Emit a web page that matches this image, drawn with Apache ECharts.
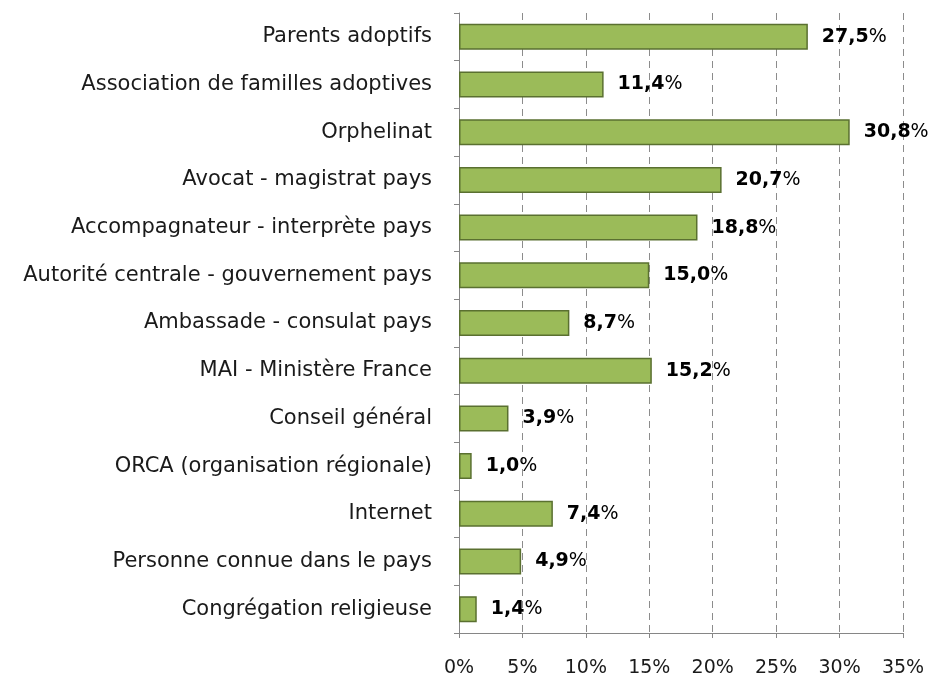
<!DOCTYPE html>
<html>
<head>
<meta charset="UTF-8">
<title>Sources d'information</title>
<script src="https://cdn.jsdelivr.net/npm/echarts@6/dist/echarts.min.js"></script>
<style>
    body{ margin: 0; background: #fff; }
    #main{ width: 932px; height: 680px; }
</style>
</head>
<body>
<div id="main"></div>
<script type="text/javascript">
    // categories from top to bottom
    var categories = ['Parents adoptifs', 'Association de familles adoptives', 'Orphelinat',
        'Avocat - magistrat pays', 'Accompagnateur - interprète pays',
        'Autorité centrale - gouvernement pays', 'Ambassade - consulat pays',
        'MAI - Ministère France', 'Conseil général', 'ORCA (organisation régionale)',
        'Internet', 'Personne connue dans le pays', 'Congrégation religieuse'];
    var values = [27.5, 11.4, 30.8, 20.7, 18.8, 15.0, 8.7, 15.2, 3.9, 1.0, 7.4, 4.9, 1.4];
    var xTicks = [0, 5, 10, 15, 20, 25, 30, 35];

    var font = 'DejaVu Sans';
    var myChart = echarts.init(document.getElementById('main'));

    var option = {
        animation: false,
        backgroundColor: '#fff',
        grid: { left: 459, right: 29, top: 13, bottom: 47 },
        xAxis: {
            type: 'value',
            min: xTicks[0],
            max: xTicks[xTicks.length - 1],
            interval: 5,
            axisLine: { show: true, lineStyle: { color: '#868686', width: 1 } },
            axisTick: { show: true, length: 5, lineStyle: { color: '#868686' } },
            axisLabel: {
                margin: 26,
                fontFamily: font, fontSize: 19, color: '#1a1a1a',
                formatter: function (v) { return v + '%'; }
            },
            splitLine: { show: true, lineStyle: { color: '#8c8c8c', type: [7, 5], width: 1 } }
        },
        yAxis: {
            type: 'category',
            data: categories,
            inverse: true,
            axisLine: { show: true, lineStyle: { color: '#868686', width: 1 } },
            axisTick: { show: true, length: 5, lineStyle: { color: '#868686' } },
            axisLabel: {
                margin: 27,
                fontFamily: font, fontSize: 21, color: '#1a1a1a'
            }
        },
        series: [{
            type: 'bar',
            data: values,
            barWidth: 26,
            itemStyle: { color: '#9bbb59', borderColor: '#5a7030', borderWidth: 1.5 },
            label: {
                show: true,
                position: 'right',
                distance: 14,
                formatter: function (p) {
                    return '{b|' + p.value.toFixed(1).replace('.', ',') + '}{n|%}';
                },
                rich: {
                    b: { fontFamily: font, fontSize: 19, fontWeight: 'bold', color: '#000' },
                    n: { fontFamily: font, fontSize: 19, color: '#000' }
                }
            }
        }]
    };
    myChart.setOption(option);
</script>
</body>
</html>
